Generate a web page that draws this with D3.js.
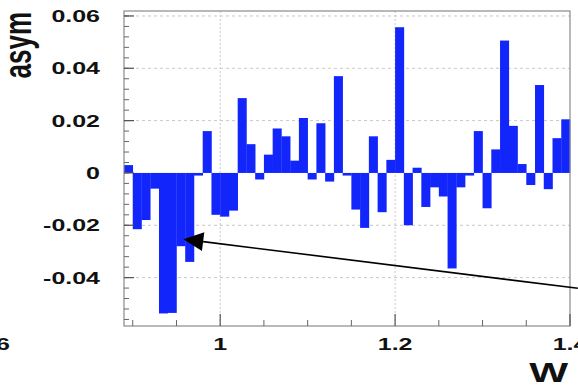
<!DOCTYPE html>
<html><head><meta charset="utf-8">
<script src="https://cdn.jsdelivr.net/npm/d3@7"></script>
<style>html,body{margin:0;padding:0;background:#fff;overflow:hidden}</style>
</head><body>
<svg id="c" width="578" height="389"></svg>
<script>
// ---- data ----
const binStart = 0.89;
const binWidth = 0.01;
const asymValues = [
  0.003, -0.0215, -0.018, -0.006, -0.0537, -0.0535, -0.028, -0.034, -0.001, 0.016,
  -0.016, -0.0167, -0.0144, 0.0286, 0.011, -0.0025, 0.007, 0.017, 0.014, 0.0047,
  0.021, -0.0025, 0.019, -0.0033, 0.037, -0.001, -0.014, -0.021, 0.014, -0.015,
  0.005, 0.0557, -0.020, 0.002, -0.013, -0.0055, -0.009, -0.0365, -0.0055, -0.001,
  0.016, -0.0135, 0.009, 0.0506, 0.018, 0.0034, -0.0046, 0.0336, -0.0062, 0.0133,
  0.0205
];
const xMajorTicks = [1.0, 1.2, 1.4];
const xMajorLabels = ["1", "1.2", "1.4"];
const xMinorTicks = [0.9, 0.95, 1.05, 1.1, 1.15, 1.25, 1.3, 1.35];
const yMajorTicks = [-0.04, -0.02, 0, 0.02, 0.04, 0.06];
const yMajorLabels = ["-0.04", "-0.02", "0", "0.02", "0.04", "0.06"];
const xTitle = "W";
const yTitle = "asym";
const arrowTail = [1.409, -0.0441];
const arrowTip = [0.9578, -0.0253];

// ---- layout ----
const L = 124, R = 570, T = 11, B = 326;
const SX = 1.47;
const svg = d3.select("#c");
const x = d3.scaleLinear().domain([0.89, 1.40]).range([L, R]);
const y = d3.scaleLinear().domain([-0.0585, 0.0619]).range([B, T]);
const FONT = "'Liberation Sans', Arial, Helvetica, sans-serif";
const blue = "#1226fb";

// grid
const g = svg.append("g");
g.selectAll("line.hg").data(yMajorTicks.filter(d => d !== 0)).join("line")
  .attr("x1", L).attr("x2", R).attr("y1", d => y(d)).attr("y2", d => y(d))
  .attr("stroke", "#c8c8c8").attr("stroke-width", 1).attr("stroke-dasharray", "3,3");
g.selectAll("line.vg").data([1.0, 1.2]).join("line")
  .attr("x1", d => x(d)).attr("x2", d => x(d)).attr("y1", T).attr("y2", B)
  .attr("stroke", "#c8c8c8").attr("stroke-width", 1).attr("stroke-dasharray", "2,2");

// bars
svg.append("g").selectAll("rect").data(asymValues).join("rect")
  .attr("x", (d, i) => x(binStart + i * binWidth))
  .attr("width", (d, i) => x(binStart + (i + 1) * binWidth) - x(binStart + i * binWidth) + 0.3)
  .attr("y", d => Math.min(y(d), y(0)))
  .attr("height", d => Math.max(1.5, Math.abs(y(d) - y(0))))
  .attr("fill", blue);

// frame
svg.append("rect").attr("x", L).attr("y", T).attr("width", R - L).attr("height", B - T)
  .attr("fill", "none").attr("stroke", "#8a8a8a").attr("stroke-width", 1.2);

// y ticks
const yMinor = d3.range(-0.056, 0.0621, 0.004);
svg.append("g").selectAll("line").data(yMinor).join("line")
  .attr("x1", L).attr("x2", L + 5).attr("y1", d => y(d)).attr("y2", d => y(d))
  .attr("stroke", "#666").attr("stroke-width", 1);
svg.append("g").selectAll("line").data(yMajorTicks).join("line")
  .attr("x1", L).attr("x2", L + 10).attr("y1", d => y(d)).attr("y2", d => y(d))
  .attr("stroke", "#555").attr("stroke-width", 1.2);
// x ticks
svg.append("g").selectAll("line").data(xMinorTicks).join("line")
  .attr("x1", d => x(d)).attr("x2", d => x(d)).attr("y1", B).attr("y2", B - 6)
  .attr("stroke", "#666").attr("stroke-width", 1);
svg.append("g").selectAll("line").data(xMajorTicks).join("line")
  .attr("x1", d => x(d)).attr("x2", d => x(d)).attr("y1", B).attr("y2", B - 12)
  .attr("stroke", "#555").attr("stroke-width", 1.2);

// labels
function label(tx, ty, text, size, anchor, extra) {
  return svg.append("text")
    .attr("transform", `translate(${tx},${ty}) scale(${SX},1)` + (extra || ""))
    .attr("text-anchor", anchor).attr("font-family", FONT).attr("font-weight", "bold")
    .attr("font-size", size).attr("fill", "#111").text(text);
}
yMajorTicks.forEach((d, i) => label(100, y(d) + 6, yMajorLabels[i], 17, "end"));
xMajorTicks.forEach((d, i) => label(x(d), 350, xMajorLabels[i], 17, "middle"));
label(10, 350, "6", 17, "end");
label(568, 382, xTitle, 28, "end");
label(31, 12, yTitle, 26, "end", " rotate(-90)");

// arrow annotation
const tx0 = x(arrowTail[0]), ty0 = y(arrowTail[1]);
const tx1 = x(arrowTip[0]), ty1 = y(arrowTip[1]);
const ang = Math.atan2(ty1 - ty0, tx1 - tx0);
const hl = 20, hw = 9.5;
const bx = tx1 - hl * Math.cos(ang), by = ty1 - hl * Math.sin(ang);
svg.append("line").attr("x1", tx0).attr("y1", ty0).attr("x2", bx).attr("y2", by)
  .attr("stroke", "#000").attr("stroke-width", 1.6);
svg.append("polygon")
  .attr("points", [[tx1, ty1],
    [bx + hw * Math.sin(ang), by - hw * Math.cos(ang)],
    [bx - hw * Math.sin(ang), by + hw * Math.cos(ang)]].map(p => p.join(",")).join(" "))
  .attr("fill", "#000");
</script>
</body></html>
